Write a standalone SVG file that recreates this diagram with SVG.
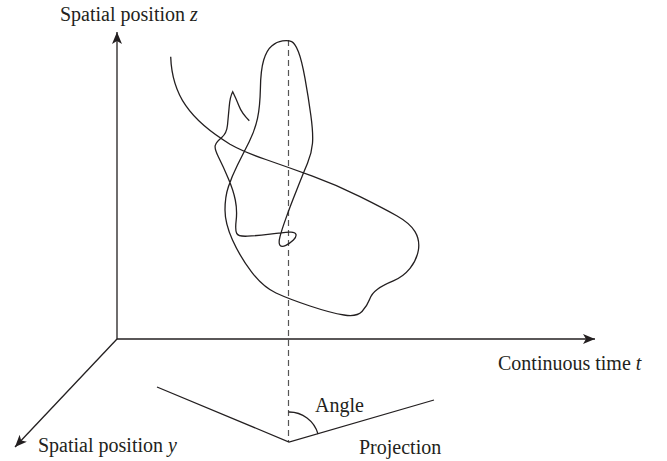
<svg xmlns="http://www.w3.org/2000/svg" width="667" height="461" viewBox="0 0 667 461">
<style>
.ax{stroke:#231f20;stroke-width:1.3;fill:none}
.ln{stroke:#231f20;stroke-width:1.3;fill:none}
.dash{stroke:#555;stroke-width:1.2;fill:none;stroke-dasharray:6,4}
.lb{font-family:"Liberation Serif",serif;font-size:20px;fill:#231f20}
.it{font-style:italic}
</style>
<defs>
<marker id="ah" markerUnits="userSpaceOnUse" markerWidth="14" markerHeight="12" refX="12" refY="5" orient="auto">
<path d="M0,0 L12,5 L0,10 L3,5 z" fill="#231f20"/>
</marker>
</defs>
<rect width="667" height="461" fill="#fff"/>
<g id="connectors">
<line class="ax" x1="117" y1="339" x2="117" y2="32" marker-end="url(#ah)"/>
<line class="ax" x1="117" y1="339" x2="595" y2="339" marker-end="url(#ah)"/>
<line class="ax" x1="117" y1="339" x2="15" y2="447" marker-end="url(#ah)"/>
<line class="dash" x1="288.5" y1="40" x2="288.5" y2="442"/>
</g>
<g id="trajectory">
<path class="ln" d="M170.7,56.7 C172,95 190,120 230,144.2 Q243.3,151.7 265.8,159.5 Q288.3,167.3 312.5,176.2 Q336.7,185 360,196.7 Q383.3,208.3 396.7,215.8 Q410,223.3 415,231.7 Q420,240 418.4,250 Q416.7,260 410,268.4 Q403.3,276.7 393.3,280.9 Q383.3,285 377.5,289.2 Q371.7,293.3 369.4,299.7 Q367,306 362,311.5 Q357,317 344,315 Q331,313 310,306 Q289,299 276,293 Q263,287 251.5,271.9 Q240,256.7 232.5,240 Q225,223.3 225,210 Q225,196.7 228.4,186.7 Q231.7,176.7 237.5,165 Q243.3,153.3 249.2,141.7 Q255,130 257.5,118.4 Q260,106.7 260.4,88.4 Q260.7,70 263.7,60 Q266.7,50 271.7,45.9 Q276.7,41.7 282.5,40.9 Q288.3,40 291.7,41.7 Q295,43.3 298.4,51.7 Q301.7,60 305,78.4 Q308.3,96.7 310.8,115 Q313.3,133.3 312.5,143.3 Q311.7,153.3 307.5,163.3 Q303.3,173.3 296.7,190 Q290,206.7 285.9,218.4 Q281.7,230 280,236.7 Q278.3,243.3 280,245.3 Q281.7,247.3 285.9,245.3 Q290,243.3 293.4,240 Q296.7,236.7 295.9,234.2 Q295,231.7 289.2,232.2 Q283.3,232.7 270,234.2 Q256.7,235.7 247.5,236.2 Q238.3,236.7 236.7,233.4 Q235,230 236.2,220 Q237.3,210 235.3,200 Q233.3,190 228.3,178.4 Q223.3,166.7 218.7,157.5 Q214,148.3 215.4,145 Q216.7,141.7 221.7,137.5 Q226.7,133.3 227.5,125 Q228.3,116.7 229.2,106.7 Q230,96.7 232.7,91.7 Q236,98.3 238.9,105.8 Q241.7,113.3 249.3,120.7"/>
</g>
<g id="projection">
<polyline class="ln" points="157,387 289,442 434,400"/>
<path class="ln" d="M288.5,412 A30,30 0 0 1 318,434"/>
</g>
<g id="labels">
<text class="lb" x="60" y="21">Spatial position <tspan class="it">z</tspan></text>
<text class="lb" x="498" y="370">Continuous time <tspan class="it">t</tspan></text>
<text class="lb" x="38" y="452">Spatial position <tspan class="it">y</tspan></text>
<text class="lb" x="315" y="412">Angle</text>
<text class="lb" x="359" y="454">Projection</text>
</g>
</svg>
